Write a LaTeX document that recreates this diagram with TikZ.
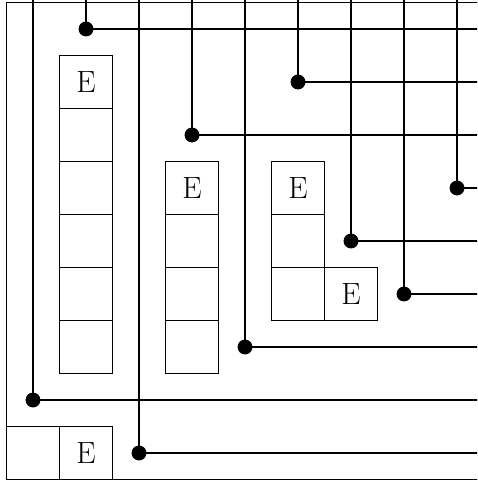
\documentclass[tikz,border=0pt]{standalone}
\begin{document}
\begin{tikzpicture}[
  wire/.style={line width=0.85pt},
  frame/.style={line width=0.45pt},
  cellbox/.style={draw, line width=0.45pt, minimum size=1cm, inner sep=0pt, outer sep=0pt, font=\fontsize{16.5}{20}\selectfont},
  joint/.style={circle, fill=black, inner sep=0pt, minimum size=8pt}
]
\useasboundingbox (-0.1226,0.047) rectangle (8.877,-9.028);
\clip (-0.1226,0.047) rectangle (8.877,-9.028);
% frame
\draw[frame] (10,0) -- (0,0) -- (0,-9) -- (10,-9);
% cell columns
\foreach \r [count=\i] in {1,...,6} {
  \node[cellbox] (a\i) at (1.5,-\r-0.5) {};
}
\node at (a1) [font=\fontsize{16.5}{20}\selectfont] {E};
\foreach \r [count=\i] in {3,...,6} {
  \node[cellbox] (b\i) at (3.5,-\r-0.5) {};
}
\node at (b1) [font=\fontsize{16.5}{20}\selectfont] {E};
\foreach \r [count=\i] in {3,...,5} {
  \node[cellbox] (c\i) at (5.5,-\r-0.5) {};
}
\node at (c1) [font=\fontsize{16.5}{20}\selectfont] {E};
\node[cellbox] (c4) at (6.5,-5.5) {E};
\node[cellbox] (d1) at (0.5,-8.5) {};
\node[cellbox] (d2) at (1.5,-8.5) {E};
% wires: column x, row y of joint
\foreach \x/\y [count=\k] in {0.5/7.5, 1.5/0.5, 2.5/8.5, 3.5/2.5, 4.5/6.5, 5.5/1.5, 6.5/4.5, 7.5/5.5, 8.5/3.5} {
  \coordinate (t\k) at (\x,0.1);
  \coordinate (e\k) at (9.2,-\y);
  \node[joint] (j\k) at (\x,-\y) {};
  \draw[wire] (t\k) -- (j\k.center) -- (e\k);
}
\end{tikzpicture}
\end{document}
